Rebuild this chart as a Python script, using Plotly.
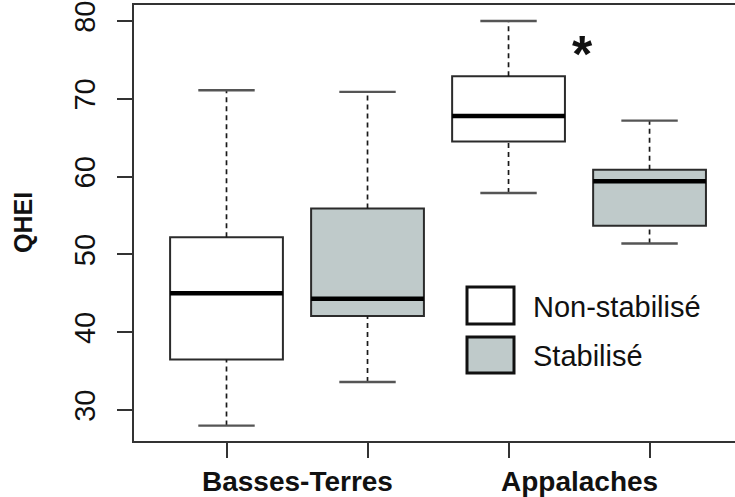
import plotly.graph_objects as go

# ---- data ----
regions = ["Basses-Terres", "Appalaches"]
series_names = ["Non-stabilisé", "Stabilisé"]
positions = [1, 2, 3, 4]
series_of_box = [0, 1, 0, 1]
lower = [28.0, 33.6, 57.9, 51.4]
q1 = [36.5, 42.1, 64.5, 53.7]
median = [45.0, 44.3, 67.8, 59.4]
q3 = [52.2, 55.9, 72.9, 60.9]
upper = [71.1, 70.9, 80.0, 67.2]
y_ticks = [30, 40, 50, 60, 70, 80]

fills = ["#ffffff", "#bfcaca"]
edge = "#2b2b2b"
FONT = "Liberation Sans, Arial, sans-serif"

W, H = 735, 497
L, R, T, B = 134, 0, 5, 56
pw, ph = W - L - R, H - T - B


def px(x):
    return (x - L) / pw


def py(y):
    return (H - B - y) / ph


fig = go.Figure()
boxw = 0.8
capw = 0.4

for i, p in enumerate(positions):
    s = series_of_box[i]
    # whiskers (dashed)
    fig.add_trace(go.Scatter(x=[p, p], y=[q3[i], upper[i]], mode="lines",
                             line=dict(color="#1a1a1a", width=1.7, dash="5px,4px"),
                             showlegend=False, hoverinfo="skip"))
    fig.add_trace(go.Scatter(x=[p, p], y=[lower[i], q1[i]], mode="lines",
                             line=dict(color="#1a1a1a", width=1.7, dash="5px,4px"),
                             showlegend=False, hoverinfo="skip"))
    # caps
    for v in (upper[i], lower[i]):
        fig.add_trace(go.Scatter(x=[p - capw / 2, p + capw / 2], y=[v, v], mode="lines",
                                 line=dict(color="#555555", width=2.4),
                                 showlegend=False, hoverinfo="skip"))
    # box body
    fig.add_trace(go.Box(x=[p], q1=[q1[i]], median=[median[i]], q3=[q3[i]],
                         lowerfence=[q1[i]], upperfence=[q3[i]],
                         width=boxw, fillcolor=fills[s],
                         line=dict(color=edge, width=2),
                         whiskerwidth=0, showlegend=False, hoverinfo="skip",
                         name=series_names[s]))
    # thick median
    fig.add_trace(go.Scatter(x=[p - boxw / 2, p + boxw / 2], y=[median[i], median[i]],
                             mode="lines", line=dict(color="#000000", width=4.5),
                             showlegend=False, hoverinfo="skip"))

shapes = []
annotations = []

# legend (manual)
leg_boxes = [(467, 287, 514, 324), (467, 337, 514, 373)]
for k, (x0, y0, x1, y1) in enumerate(leg_boxes):
    shapes.append(dict(type="rect", xref="paper", yref="paper",
                       x0=px(x0), x1=px(x1), y0=py(y1), y1=py(y0),
                       fillcolor=fills[k], line=dict(color="#111111", width=3)))
    annotations.append(dict(xref="paper", yref="paper", x=px(531), y=py((y0 + y1) / 2 + 1),
                            text=series_names[k], showarrow=False,
                            xanchor="left", yanchor="middle",
                            font=dict(family=FONT, size=29, color="#111111")))

# group labels
for g, name in enumerate(regions):
    xc = (positions[2 * g] + positions[2 * g + 1]) / 2
    annotations.append(dict(xref="x", yref="paper", x=xc, y=0, yshift=-23,
                            text="<b>%s</b>" % name, showarrow=False,
                            xanchor="center", yanchor="top",
                            font=dict(family=FONT, size=28, color="#111111")))

# significance star
annotations.append(dict(xref="paper", yref="paper", x=px(582), y=py(54),
                        text="<b>*</b>", showarrow=False,
                        xanchor="center", yanchor="middle",
                        font=dict(family=FONT, size=52, color="#111111")))

# y title
annotations.append(dict(xref="paper", yref="paper", x=px(23), y=0.5,
                        text="<b>QHEI</b>", showarrow=False, textangle=-90,
                        xanchor="center", yanchor="middle",
                        font=dict(family=FONT, size=25, color="#111111")))

fig.update_layout(
    width=W, height=H,
    margin=dict(l=L, r=R, t=T, b=B, autoexpand=False),
    paper_bgcolor="white", plot_bgcolor="white",
    showlegend=False,
    shapes=shapes, annotations=annotations,
    xaxis=dict(range=[0.344, 4.606], tickvals=positions, ticktext=[""] * 4,
               ticks="outside", ticklen=15, tickwidth=2, tickcolor="#333333",
               showline=True, linecolor="#333333", linewidth=2, mirror=True,
               showgrid=False, zeroline=False, fixedrange=True, automargin=False),
    yaxis=dict(range=[26.02, 82.06], tickvals=y_ticks,
               ticktext=[str(v) for v in y_ticks],
               ticks="outside", ticklen=15, tickwidth=2, tickcolor="#333333",
               tickangle=-90, ticklabelstandoff=10,
               tickfont=dict(family=FONT, size=29, color="#111111"),
               showline=True, linecolor="#333333", linewidth=2, mirror=False,
               showgrid=False, zeroline=False, fixedrange=True, automargin=False),
)

fig.write_html("out.html",
               config={"displayModeBar": False, "staticPlot": True},
               post_script="document.body.style.margin='0';"
                           "document.body.style.overflow='hidden';"
                           "document.documentElement.style.overflow='hidden';")
